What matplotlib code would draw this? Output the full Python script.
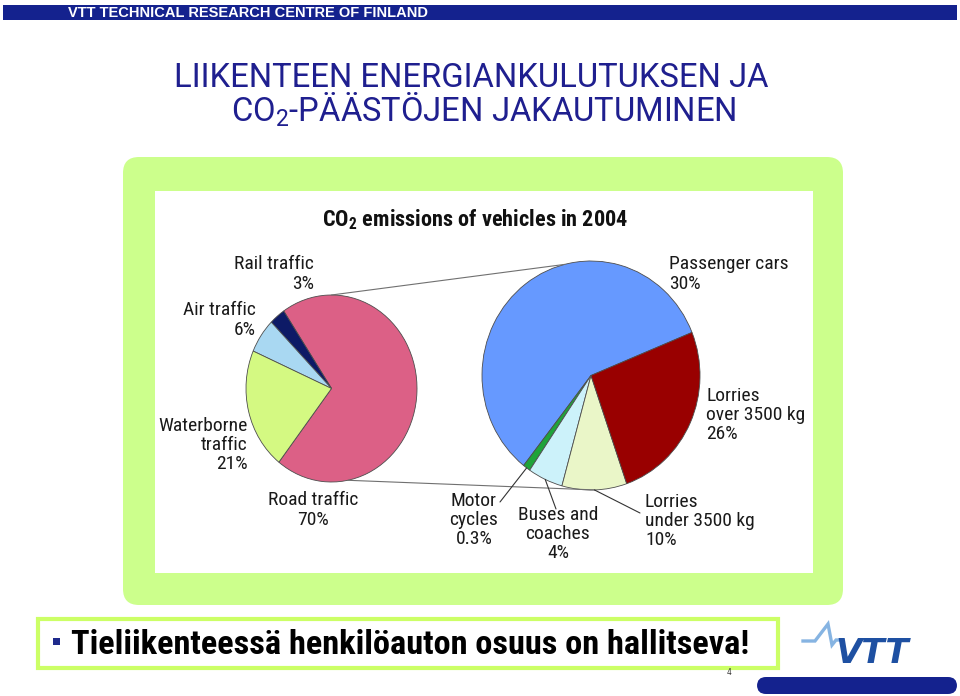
"""
Slide: CO2 emissions of vehicles in 2004 (pie-of-pie), VTT layout.
Renders out.png at 960x696.
"""
import matplotlib
matplotlib.use("Agg")
import matplotlib.pyplot as plt
import numpy as np
from matplotlib.lines import Line2D
from matplotlib.patches import ConnectionPatch, FancyBboxPatch, Rectangle

W, H = 960, 696

# ---- data ------------------------------------------------------------
MAIN_LABELS = ["Road traffic", "Rail traffic", "Air traffic", "Waterborne\ntraffic"]
MAIN_SHARES = [70, 3, 6, 21]
MAIN_COLORS = ["#DC6086", "#0D1A66", "#A9D8F2", "#D4F982"]

ROAD_LABELS = ["Passenger cars", "Motor\ncycles", "Buses and\ncoaches",
               "Lorries\nunder 3500 kg", "Lorries\nover 3500 kg"]
ROAD_SHARES = [30, 0.3, 4, 10, 26]          # printed on the slide
ROAD_WEDGES = [58.2, 1.1, 5.2, 9.6, 25.8]   # wedge sizes as actually drawn
ROAD_COLORS = ["#6699FF", "#1FA33A", "#CCF2FA", "#EAF6C8", "#990000"]

# ---- layout (pixels, y down) ------------------------------------------
MAIN_BOX = (246, 295, 417, 482)
ROAD_BOX = (482, 261, 700, 490)
MAIN_LABEL_POS = [(313, 510, "center"), (314, 274, "right"),
                  (256, 320, "right"), (248, 445, "right")]
ROAD_LABEL_POS = [(669, 274, "left"), (474, 520, "center"), (558, 534, "center"),
                  (645, 521, "left"), (706, 415, "left")]
LEADER_ENDS = {1: (500, 502), 2: (556, 509), 3: (640, 513)}

NAVY = "#14228E"
LIME = "#CCFF8C"
NARROW = ["Roboto Condensed", "Liberation Sans", "DejaVu Sans"]
plt.rcParams["mathtext.default"] = "regular"


def pie_axes(fig, box, shares, colors, start):
    x0, y0, x1, y1 = box
    ax = fig.add_axes([x0 / W, 1 - y1 / H, (x1 - x0) / W, (y1 - y0) / H])
    wedges, _ = ax.pie(shares, colors=colors, startangle=start, counterclock=True,
                       wedgeprops=dict(edgecolor="#4d4d4d", linewidth=0.6))
    for w in wedges:
        w.set_clip_on(False)
    ax.set_aspect("auto")
    ax.set_xlim(-1, 1); ax.set_ylim(-1, 1)
    ax.axis("off")
    return ax, wedges


def edge_point(deg):
    a = np.radians(deg)
    return np.cos(a), np.sin(a)


def main():
    fig = plt.figure(figsize=(W / 100, H / 100), dpi=100)
    bg = fig.add_axes([0, 0, 1, 1])
    bg.set_xlim(0, W); bg.set_ylim(H, 0); bg.axis("off")

    # ---- slide frame ---------------------------------------------------
    bg.add_patch(Rectangle((3, 5), 954, 15, color=NAVY, lw=0))
    bg.text(68, 17, "VTT TECHNICAL RESEARCH CENTRE OF FINLAND", color="white",
            fontsize=10.5, fontweight="bold", family=["Liberation Sans", "DejaVu Sans"],
            va="baseline")
    title_kw = dict(ha="center", va="baseline", fontsize=23.6, color="#1F1F8F",
                    family=["Roboto", "Liberation Sans", "DejaVu Sans"])
    bg.text(471, 87, "LIIKENTEEN ENERGIANKULUTUKSEN JA", **title_kw)
    bg.text(484, 122, "CO$_2$-PÄÄSTÖJEN JAKAUTUMINEN", **title_kw)

    bg.add_patch(FancyBboxPatch((123, 157), 720, 448, color=LIME, lw=0,
                                boxstyle="round,pad=0,rounding_size=16"))
    bg.add_patch(Rectangle((155, 191), 658, 382, color="white", lw=0))
    bg.text(475, 226, "CO$_2$ emissions of vehicles in 2004", ha="center",
            va="baseline", fontsize=16, fontweight="bold", color="#111111",
            family=NARROW)

    # ---- pies ------------------------------------------------------------
    ax_l, _ = pie_axes(fig, MAIN_BOX, MAIN_SHARES, MAIN_COLORS, -128)
    ax_r, wedges_r = pie_axes(fig, ROAD_BOX, ROAD_WEDGES, ROAD_COLORS, 22.1)

    for a_l, a_r in [(90, 104), (-79, -88)]:
        fig.add_artist(ConnectionPatch(xyA=edge_point(a_l), coordsA=ax_l.transData,
                                       xyB=edge_point(a_r), coordsB=ax_r.transData,
                                       color="#707070", lw=0.8))

    lab_kw = dict(fontsize=14, color="#1a1a1a", family=NARROW, va="center",
                  linespacing=1.08)
    for name, v, (x, y, ha) in zip(MAIN_LABELS, MAIN_SHARES, MAIN_LABEL_POS):
        bg.text(x, y, f"{name}\n{v:g}%", ha=ha, **lab_kw)
    for name, v, (x, y, ha) in zip(ROAD_LABELS, ROAD_SHARES, ROAD_LABEL_POS):
        bg.text(x, y, f"{name}\n{v:g}%", ha=ha, **lab_kw)

    # leader lines from the small wedges
    for i, end in LEADER_ENDS.items():
        w = wedges_r[i]
        mid = 0.5 * (w.theta1 + w.theta2)
        fig.add_artist(ConnectionPatch(xyA=edge_point(mid), coordsA=ax_r.transData,
                                       xyB=end, coordsB=bg.transData,
                                       color="#333333", lw=0.8))

    # ---- bottom note -----------------------------------------------------
    bg.add_patch(Rectangle((38, 619), 740, 49, facecolor="white",
                           edgecolor="#CCFF66", lw=3))
    bg.add_patch(Rectangle((53, 638), 6.5, 6.5, color="#1F2A8C", lw=0))
    bg.text(71, 654, "Tieliikenteessä henkilöauton osuus on hallitseva!",
            fontsize=24.7, fontweight="bold", color="black", family=NARROW,
            va="baseline")
    bg.text(729, 675, "4", fontsize=5.5, color="#333333", ha="center", va="baseline")

    # ---- VTT logo ----------------------------------------------------------
    bg.add_line(Line2D([803, 815, 828, 832, 836, 842], [641, 641, 624, 645, 640, 640],
                       color="#86B4E2", lw=2.4, solid_joinstyle="miter"))
    bg.text(835, 663, "VTT", fontsize=24.5, fontweight="bold", style="oblique",
            color="#1E50A2", family="DejaVu Sans", va="baseline")
    bg.add_patch(FancyBboxPatch((757, 677), 200, 17, color=NAVY, lw=0,
                                boxstyle="round,pad=0,rounding_size=9"))

    fig.savefig("out.png", dpi=100, facecolor="white")
    plt.close(fig)


if __name__ == "__main__":
    main()
